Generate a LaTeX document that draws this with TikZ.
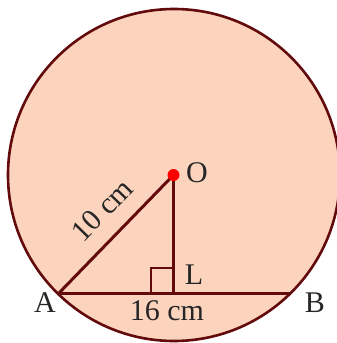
\documentclass[tikz,border=0pt]{standalone}
\usepackage{fontspec}
\setmainfont{Liberation Serif}
\definecolor{peach}{HTML}{FCD4BE}
\definecolor{brn}{HTML}{620A0C}
\begin{document}
\begin{tikzpicture}[x=1pt,y=-1pt,
  edge/.style={draw=brn,line width=3pt},
  lbl/.style={inner sep=0pt,font=\fontsize{30}{32}\selectfont,text=black!85}]
\useasboundingbox (0,0) rectangle (337,343);
\fill[white] (0,0) rectangle (337,343);
\coordinate (C) at (174,175);
\draw[fill=peach,draw=brn,line width=2.6pt] (C) circle[radius=166];
\coordinate (O) at (173.5,175);
\coordinate (A) at (59,293);
\coordinate (B) at (290,293);
\coordinate (L) at (173.5,293);
\draw[edge] (A) -- (B);
\draw[edge] (A) -- (O);
\draw[edge] (O) -- (L);
\draw[draw=brn,line width=2.6pt] (151,293) -- (151,268) -- (173.5,268);
\fill[red] (O) circle[radius=6];
\node[lbl] (lO) at (197,173) {O};
\node[lbl] (lL) at (194,275) {L};
\node[lbl] (lA) at (45,303) {A};
\node[lbl] (lB) at (315,303) {B};
\node[lbl] (l16) at (167,311) {16 cm};
\node[lbl,rotate=45.7] (l10) at (102,210) {10 cm};
\end{tikzpicture}
\end{document}
